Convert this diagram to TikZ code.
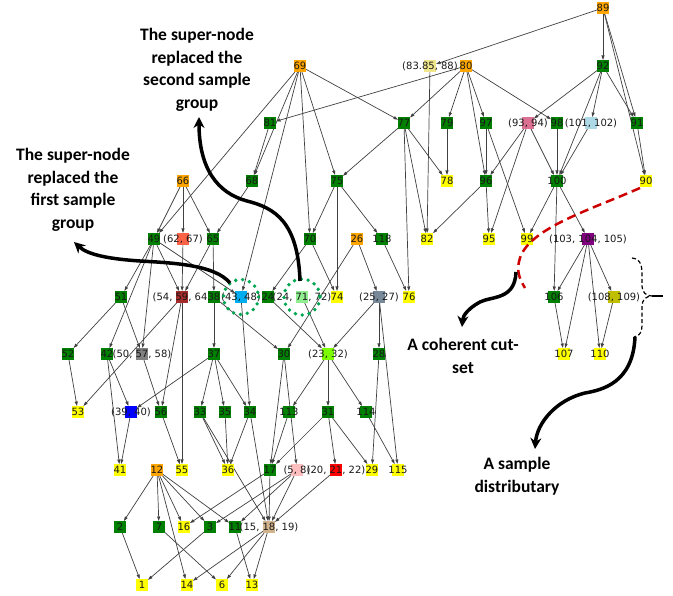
\documentclass[tikz,border=0pt]{standalone}
\usepackage{fontspec}
\setmainfont{DejaVu Sans}
\newfontfamily\notefont{Carlito}
\usetikzlibrary{arrows.meta,backgrounds}
\definecolor{nxgreen}{HTML}{008000}
\definecolor{nxorange}{HTML}{FFA500}
\definecolor{nxyellow}{HTML}{FFFF00}
\definecolor{cutred}{HTML}{CC0000}
\definecolor{ringgreen}{HTML}{00A651}
\begin{document}
\begin{tikzpicture}[x=1pt,y=-1pt]
	\tikzstyle{every node}=[font=\fontsize{10}{12}\selectfont, text=black!90]
	\tikzstyle{nd}=[minimum size=12, inner sep=0, outer sep=0]
	\tikzstyle{root}=[nd, fill=nxorange]
	\tikzstyle{mid}=[nd, fill=nxgreen]
	\tikzstyle{leaf}=[nd, fill=nxyellow]
	\tikzstyle{relation}=[-{Triangle[length=4.5pt,width=3pt]}, black!75, line width=0.7pt]
	\tikzstyle{note}=[font=\notefont\bfseries\fontsize{17.5}{22.5}\selectfont, text=black, align=center]
	\tikzstyle{bigarrow}=[-{Stealth[length=11pt,width=11pt]}, line width=3.5pt]
	\tikzstyle{ring}=[ringgreen, line width=3.8pt, line cap=round, dash pattern=on 0pt off 7pt]
	\useasboundingbox (0,0) rectangle (673,596);

	% level 0 and 1
	\node[root, label=center:89] (n89) at (603,8) {};
	\node[root, label=center:69] (n69) at (300,66) {};
	\node[nd, fill={rgb,255:red,240;green,230;blue,140}, label=center:{(83.85, 88)}] (n85) at (430,66) {};
	\node[root, label=center:80] (n80) at (466,66) {};
	\node[mid, label=center:92] (n92) at (603,66) {};
	% level 2
	\node[mid, label=center:81] (n81) at (270,123) {};
	\node[mid, label=center:77] (n77) at (404,123) {};
	\node[mid, label=center:79] (n79) at (447,123) {};
	\node[mid, label=center:97] (n97) at (486,123) {};
	\node[nd, fill={rgb,255:red,219;green,112;blue,147}, label=center:{(93, 94)}] (n93) at (528,123) {};
	\node[mid, label=center:98] (n98) at (557,123) {};
	\node[nd, fill={rgb,255:red,173;green,216;blue,230}, label=center:{(101, 102)}] (n101) at (591,123) {};
	\node[mid, label=center:91] (n91) at (637,123) {};
	% level 3
	\node[root, label=center:66] (n66) at (183,181) {};
	\node[mid, label=center:68] (n68) at (252,181) {};
	\node[mid, label=center:75] (n75) at (337,181) {};
	\node[leaf, label=center:78] (n78) at (447,181) {};
	\node[mid, label=center:96] (n96) at (486,181) {};
	\node[mid, label=center:100] (n100) at (557,181) {};
	\node[leaf, label=center:90] (n90) at (646,181) {};
	% level 4
	\node[mid, label=center:49] (n49) at (154,239) {};
	\node[nd, fill={rgb,255:red,255;green,99;blue,71}, label=center:{(62, 67)}] (n62) at (183,239) {};
	\node[mid, label=center:65] (n65) at (213,239) {};
	\node[mid, label=center:70] (n70) at (310,239) {};
	\node[root, label=center:26] (n26) at (357,239) {};
	\node[mid, label=center:118] (n118) at (382,239) {};
	\node[leaf, label=center:82] (n82) at (427,239) {};
	\node[leaf, label=center:95] (n95) at (489,239) {};
	\node[leaf, label=center:99] (n99) at (527,239) {};
	\node[nd, fill={rgb,255:red,128;green,0;blue,128}, label=center:{(103, 104, 105)}] (n104) at (588,239) {};
	% level 5
	\node[mid, label=center:51] (n51) at (121,297) {};
	\node[nd, fill={rgb,255:red,165;green,42;blue,42}, label=center:{(54, 59, 64)}] (n59) at (182,297) {};
	\node[mid, label=center:38] (n38) at (214,297) {};
	\node[nd, fill=cyan, label=center:{(43, 48)}] (n43) at (241,297) {};
	\node[mid, label=center:24] (n24) at (268,297) {};
	\node[nd, fill={rgb,255:red,144;green,238;blue,144}, label=center:{(24, 71, 72)}] (n71) at (302,297) {};
	\node[leaf, label=center:74] (n74) at (337,297) {};
	\node[nd, fill={rgb,255:red,119;green,136;blue,153}, label=center:{(25, 27)}] (n25) at (379,297) {};
	\node[leaf, label=center:76] (n76) at (409,297) {};
	\node[mid, label=center:106] (n106) at (554,297) {};
	\node[nd, fill={rgb,255:red,191;green,191;blue,0}, label=center:{(108, 109)}] (n108) at (614,297) {};
	% level 6
	\node[mid, label=center:52] (n52) at (68,354) {};
	\node[mid, label=center:42] (n42) at (107,354) {};
	\node[nd, fill=gray, label=center:{(50, 57, 58)}] (n57) at (142,354) {};
	\node[mid, label=center:37] (n37) at (214,354) {};
	\node[mid, label=center:30] (n30) at (284,354) {};
	\node[nd, fill={rgb,255:red,124;green,252;blue,0}, label=center:{(23, 32)}] (n23) at (328,354) {};
	\node[mid, label=center:28] (n28) at (379,354) {};
	\node[leaf, label=center:107] (n107) at (564,354) {};
	\node[leaf, label=center:110] (n110) at (600,354) {};
	% level 7
	\node[leaf, label=center:53] (n53) at (78,412) {};
	\node[nd, fill=blue, label=center:{(39, 40)}] (n39) at (131,412) {};
	\node[mid, label=center:56] (n56) at (161,412) {};
	\node[mid, label=center:33] (n33) at (200,412) {};
	\node[mid, label=center:35] (n35) at (225,412) {};
	\node[mid, label=center:34] (n34) at (250,412) {};
	\node[mid, label=center:113] (n113) at (289,412) {};
	\node[mid, label=center:31] (n31) at (328,412) {};
	\node[mid, label=center:114] (n114) at (366,412) {};
	% level 8
	\node[leaf, label=center:41] (n41) at (120,470) {};
	\node[root, label=center:12] (n12) at (157,470) {};
	\node[leaf, label=center:55] (n55) at (182,470) {};
	\node[leaf, label=center:36] (n36) at (228,470) {};
	\node[mid, label=center:17] (n17) at (270,470) {};
	\node[nd, fill=pink, label=center:{(5, 8)}] (n5) at (297,470) {};
	\node[nd, fill=red, label=center:{(20, 21, 22)}] (n21) at (336,470) {};
	\node[leaf, label=center:29] (n29) at (372,470) {};
	\node[leaf, label=center:115] (n115) at (398,470) {};
	% level 9 and 10
	\node[mid, label=center:2] (n2) at (120,527) {};
	\node[mid, label=center:7] (n7) at (159,527) {};
	\node[leaf, label=center:16] (n16) at (184,527) {};
	\node[mid, label=center:3] (n3) at (210,527) {};
	\node[mid, label=center:11] (n11) at (235,527) {};
	\node[nd, fill={rgb,255:red,210;green,180;blue,140}, label=center:{(15, 18, 19)}] (n18) at (269,527) {};
	\node[leaf, label=center:1] (n1) at (142,585) {};
	\node[leaf, label=center:14] (n14) at (187,585) {};
	\node[leaf, label=center:6] (n6) at (222,585) {};
	\node[leaf, label=center:13] (n13) at (252,585) {};

	\begin{pgfonlayer}{background}
	\foreach \a/\b in {89/85,89/92,89/91,89/90,80/81,80/77,80/79,80/97,80/96,80/98,
		69/77,69/75,69/68,69/49,69/43,69/70,85/82,92/93,92/101,92/91,92/100,91/90,
		81/68,77/75,77/76,77/82,77/78,79/78,97/96,97/99,93/96,93/95,93/100,98/100,101/100,
		66/49,66/62,66/65,68/65,75/70,75/74,75/118,96/95,96/82,100/99,100/106,100/104,
		49/51,49/42,49/57,49/59,49/43,62/59,65/59,65/38,70/24,70/74,26/30,26/25,118/76,
		104/106,104/107,104/110,104/108,51/52,51/57,59/53,59/56,59/55,38/37,38/30,43/34,
		24/23,71/23,25/23,25/28,25/115,106/107,108/110,52/53,42/41,42/39,57/56,
		37/33,37/35,37/34,37/39,30/17,30/5,23/113,23/31,23/114,28/29,39/41,56/55,
		33/36,33/18,35/36,34/36,34/18,113/17,31/17,31/21,31/29,114/115,
		12/2,12/7,12/16,12/3,12/11,12/14,17/16,17/18,5/3,5/11,5/18,21/18,
		2/1,3/1,7/6,11/13,18/14,18/13,18/6}
		\draw[relation] (n\a) -- (n\b);
	\end{pgfonlayer}

	% notes
	\node[note] (second) at (197,70) {The super-node\\replaced the\\second sample\\group};
	\node[note] (first) at (73,190) {The super-node\\replaced the\\first sample\\group};
	\node[note] (cutset) at (463,356) {A coherent cut-\\set};
	\node[note] (distrib) at (517,476) {A sample\\distributary};
	\draw[ring] (n43) circle (17.5);
	\draw[ring] (n71) circle (18);
	\draw[bigarrow] (300,281) .. controls (298,222) and (275,208) .. (247,201) .. controls (217,193) and (199,168) .. (199,117);
	\draw[bigarrow] (230,283) .. controls (215,265) and (175,263) .. (140,261) .. controls (110,259) and (88,255) .. (74,242);
	\draw[cutred, line width=2.5pt, dash pattern=on 9pt off 5pt] (640,188) .. controls (590,210) and (530,228) .. (520,258) .. controls (516,270) and (519,278) .. (525,288);
	\draw[bigarrow] (516,272) .. controls (515,300) and (492,296) .. (480,302) .. controls (469,308) and (463,315) .. (462,327);
	\draw[line width=1.2pt, dash pattern=on 4pt off 2.5pt] (632,258) .. controls (642,259) and (642,268) .. (642,276) -- (642,286) .. controls (642,292) and (646,296) .. (652,296) .. controls (646,296) and (642,300) .. (642,306) -- (642,324) .. controls (642,332) and (640,336) .. (634,337);
	\draw[line width=1.2pt] (652,296) -- (663,296);
	\draw[bigarrow] (635,337) .. controls (633,383) and (602,390) .. (585,393) .. controls (556,400) and (537,423) .. (535,449);
\end{tikzpicture}
\end{document}
